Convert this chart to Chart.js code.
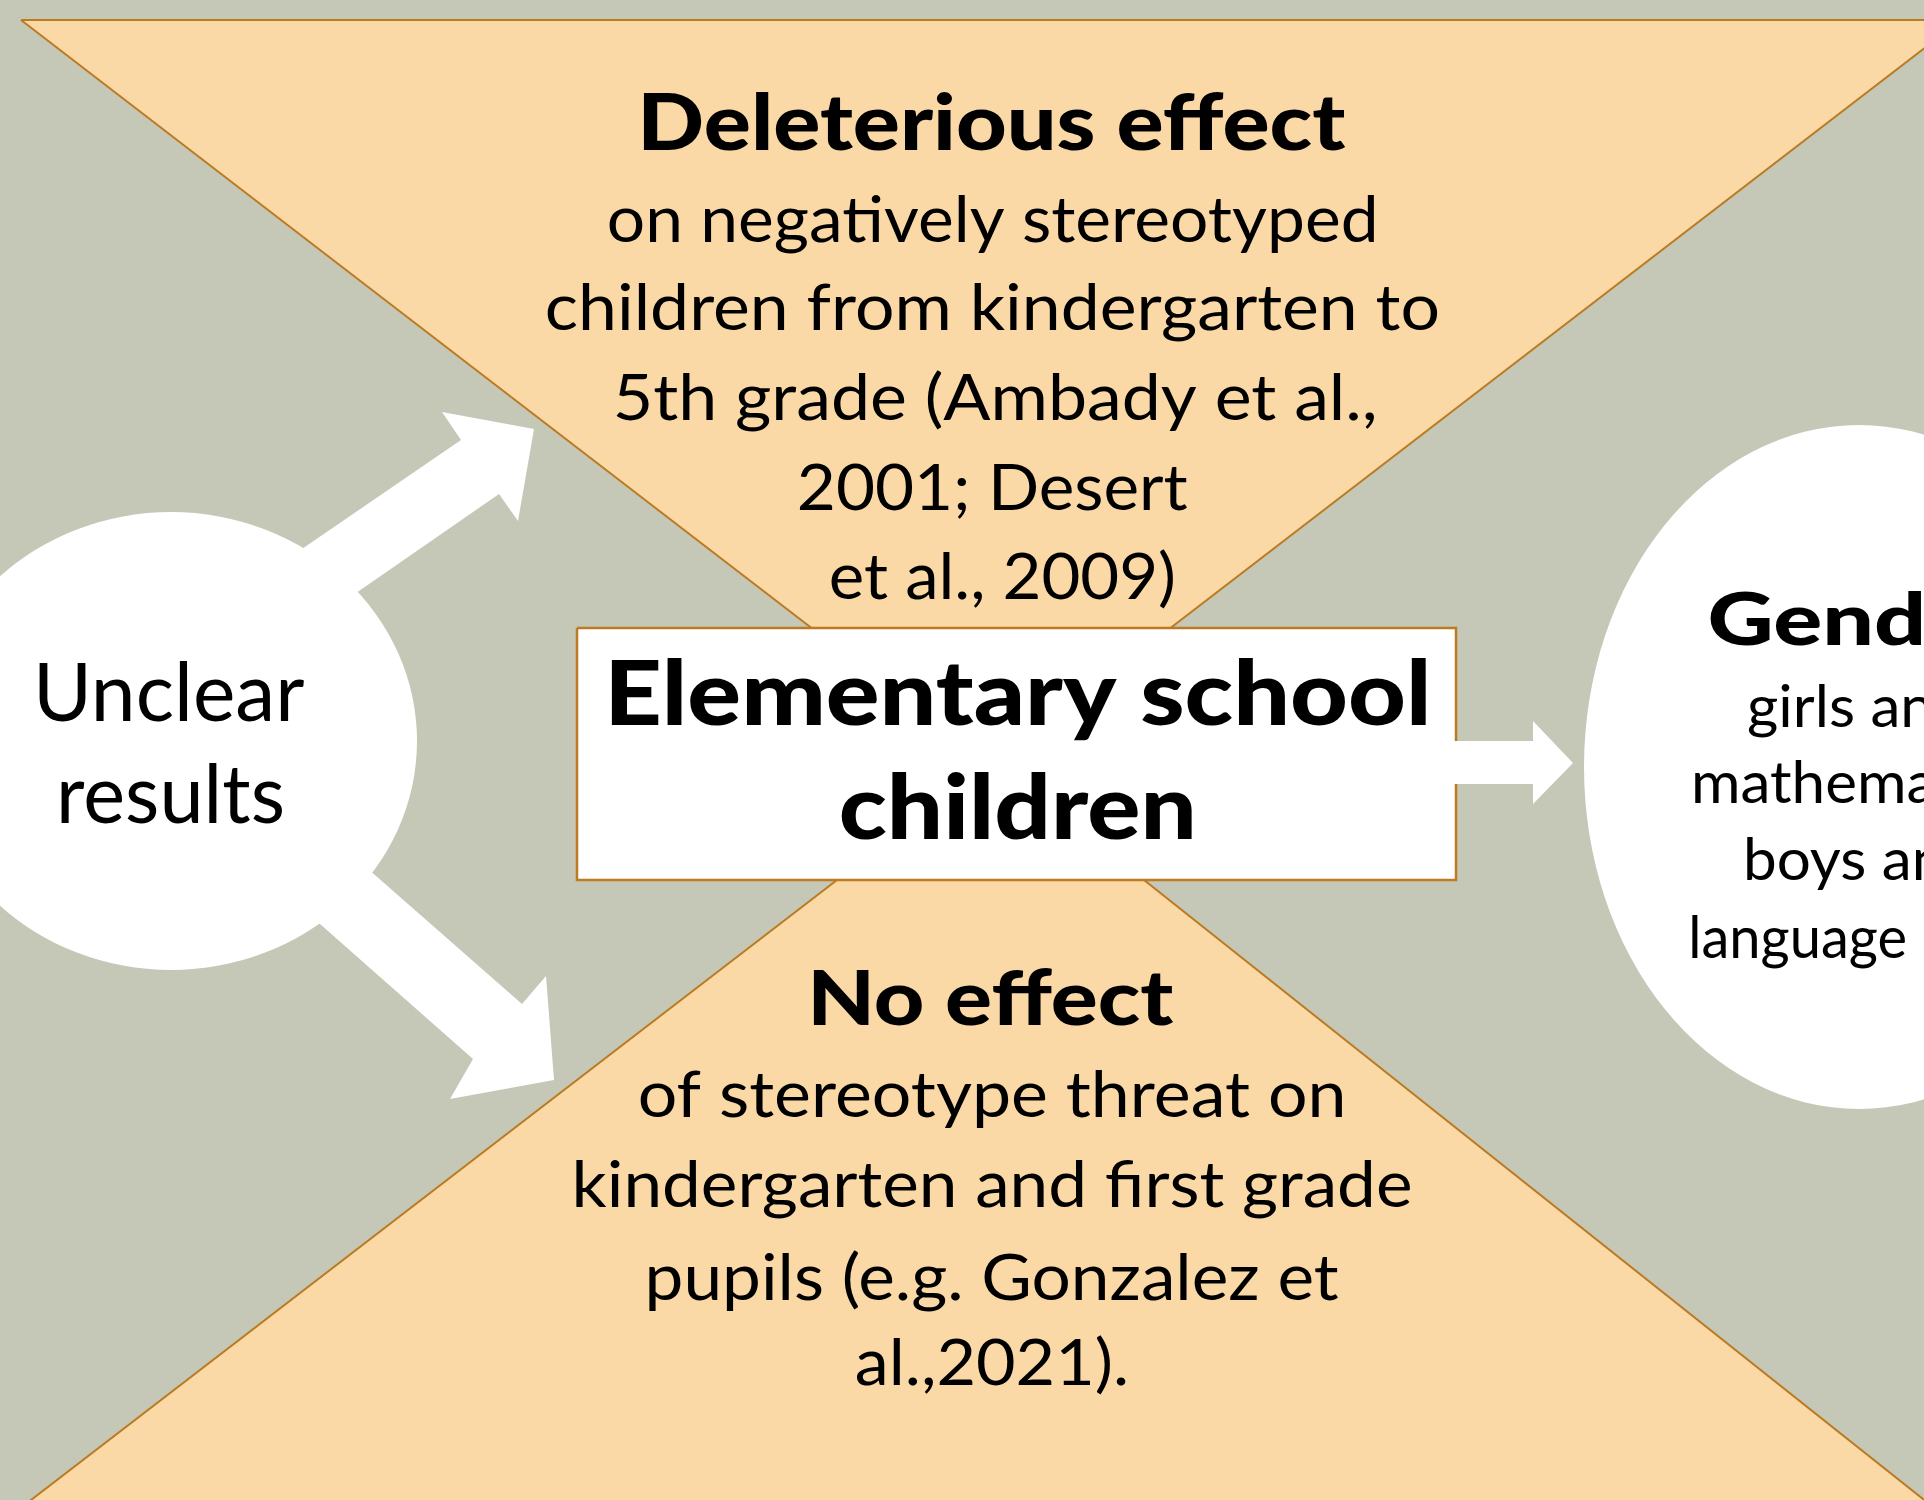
<!DOCTYPE html>
<html>
<head>
<meta charset="utf-8">
<title>Elementary school children</title>
<script src="https://cdn.jsdelivr.net/npm/chart.js@4.4.1/dist/chart.umd.min.js"></script>
<style>
    html, body { margin: 0; padding: 0; background: #C5C8B6; }
    #wrap { width: 1924px; height: 1500px; }
</style>
</head>
<body>
<div id="wrap"><canvas id="diagram" width="1924" height="1500"></canvas></div>
<script>
// Shapes, in picture units (x right, y down)
const topTriangle    = [[21, 20], [1961, 20], [991, 766], [21, 20]];
const bottomTriangle = [[-8, 1530], [993, 760], [1962, 1530], [-8, 1530]];
const centreBox      = [[577, 628], [1456, 628], [1456, 880], [577, 880], [577, 628]];
const upArrow        = [[280, 564], [461, 440], [442, 412], [534, 429], [518, 521], [499, 494], [333, 609], [280, 564]];
const downArrow      = [[351, 854], [522, 1004], [546, 976], [554, 1080], [450, 1099], [473, 1059], [303, 909], [351, 854]];
const rightArrow     = [[1450, 741], [1533, 741], [1533, 721], [1573, 763], [1533, 804], [1533, 784], [1450, 784], [1450, 741]];

// bubbles: centre x, centre y, radius x, radius y
const leftBubble  = [171, 741, 246, 229];
const rightBubble = [1859, 767, 275, 342];

// Texts
const topHeading    = 'Deleterious effect';
const topLines      = ['on negatively stereotyped', 'children from kindergarten to', '5th grade (Ambady et al.,', '2001; Desert', 'et al., 2009)'];
const bottomHeading = 'No effect';
const bottomLines   = ['of stereotype threat on', 'kindergarten and first grade', 'pupils (e.g. Gonzalez et', 'al.,2021).'];
const centreLines   = ['Elementary school', 'children'];
const leftLines     = ['Unclear', 'results'];
const rightHeading  = 'Gender stereotypes';
const rightLines    = ['girls and', 'mathematics,', 'boys and', 'language'];

// Text placement: [ink left, ink right, baseline]
const topHeadingPos    = [643, 1346, 150];
const topLinesPos      = [[609, 1374, 242], [547, 1438, 330], [616, 1374, 420], [799, 1187, 510], [831, 1173, 599]];
const bottomHeadingPos = [813, 1174, 1025];
const bottomLinesPos   = [[640, 1343, 1117], [576, 1410, 1207], [649, 1338, 1300], [857, 1126, 1385]];
const centreLinesPos   = [[611, 1426, 725], [841, 1192, 839]];
const leftLinesPos     = [[39, 304, 721], [61, 282, 823]];
// right bubble runs off the picture: [ink left, baseline, visible part, its ink right]
const rightHeadingPos  = [1710, 645, 'Gend', 1922];
const rightLinesPos    = [[1748, 727, 'girls a', 1897], [1695, 803, null, null], [1747, 880, null, null], [1692, 958, 'language', 1905]];

const BG = '#C5C8B6';
const PEACH = '#FAD9A7';
const EDGE = '#BC7A22';
const FONT = 'Lato, "Open Sans", "DejaVu Sans", sans-serif';

const toPoints = arr => arr.map(p => ({ x: p[0], y: p[1] }));

function polygon(label, pts, fillColor, edgeColor, edgeWidth, order) {
    return {
        label: label,
        data: toPoints(pts),
        showLine: true,
        fill: 'shape',
        backgroundColor: fillColor,
        borderColor: edgeColor,
        borderWidth: edgeWidth,
        pointRadius: 0,
        pointHoverRadius: 0,
        tension: 0,
        order: order
    };
}

function sizeForCap(ctx, weight, cap) {
    ctx.font = `${weight} 100px ${FONT}`;
    return cap / (ctx.measureText('H').actualBoundingBoxAscent / 100);
}

// draws one text line, squeezed or stretched so its ink spans the given width
function drawFitted(chart, text, weight, cap, x0, x1, baseline, fitText) {
    const ctx = chart.ctx;
    const xs = chart.scales.x, ys = chart.scales.y;
    ctx.font = `${weight} ${sizeForCap(ctx, weight, cap)}px ${FONT}`;
    ctx.textAlign = 'left';
    ctx.textBaseline = 'alphabetic';
    const m = ctx.measureText(fitText || text);
    const inkW = m.actualBoundingBoxLeft + m.actualBoundingBoxRight;
    const left = xs.getPixelForValue(x0);
    const sx = (xs.getPixelForValue(x1) - left) / inkW;
    ctx.save();
    ctx.translate(left, ys.getPixelForValue(baseline));
    ctx.scale(sx, 1);
    ctx.fillStyle = '#000';
    ctx.fillText(text, m.actualBoundingBoxLeft, 0);
    ctx.restore();
}

const diagramPlugin = {
    id: 'diagramPlugin',
    beforeDraw(chart) {
        const ctx = chart.ctx;
        ctx.save();
        ctx.fillStyle = BG;
        ctx.fillRect(0, 0, chart.width, chart.height);
        ctx.restore();
    },
    beforeDatasetsDraw(chart) {
        const ctx = chart.ctx;
        const xs = chart.scales.x, ys = chart.scales.y;
        ctx.save();
        ctx.fillStyle = '#FFFFFF';
        [leftBubble, rightBubble].forEach(b => {
            const cx = xs.getPixelForValue(b[0]);
            const cy = ys.getPixelForValue(b[1]);
            const rx = Math.abs(xs.getPixelForValue(b[0] + b[2]) - cx);
            const ry = Math.abs(ys.getPixelForValue(b[1] + b[3]) - cy);
            ctx.beginPath();
            ctx.ellipse(cx, cy, rx, ry, 0, 0, Math.PI * 2);
            ctx.fill();
        });
        ctx.restore();
    },
    afterDatasetsDraw(chart) {
        const bold = '900';
        const normal = 'normal';
        const ctx = chart.ctx;

        drawFitted(chart, topHeading, bold, 57, ...topHeadingPos);
        topLines.forEach((t, i) => drawFitted(chart, t, normal, 46, ...topLinesPos[i]));

        drawFitted(chart, bottomHeading, bold, 55, ...bottomHeadingPos);
        bottomLines.forEach((t, i) => drawFitted(chart, t, normal, 46, ...bottomLinesPos[i]));

        centreLines.forEach((t, i) => drawFitted(chart, t, bold, 66, ...centreLinesPos[i]));
        leftLines.forEach((t, i) => drawFitted(chart, t, normal, 59, ...leftLinesPos[i]));

        drawFitted(chart, rightHeading, bold, 53, rightHeadingPos[0], rightHeadingPos[3], rightHeadingPos[1], rightHeadingPos[2]);

        // lines cut by the picture edge borrow the squeeze of "girls a"
        ctx.font = `normal ${sizeForCap(ctx, normal, 43)}px ${FONT}`;
        const ref = ctx.measureText('girls a');
        const sx = (1897 - 1748) / (ref.actualBoundingBoxLeft + ref.actualBoundingBoxRight);
        rightLines.forEach((t, i) => {
            const [x0, base, part, x1] = rightLinesPos[i];
            if (part) {
                drawFitted(chart, t, normal, 43, x0, x1, base, part);
            } else {
                ctx.font = `normal ${sizeForCap(ctx, normal, 43)}px ${FONT}`;
                const m = ctx.measureText(t);
                const w = (m.actualBoundingBoxLeft + m.actualBoundingBoxRight) * sx;
                drawFitted(chart, t, normal, 43, x0, x0 + w, base);
            }
        });
    }
};

new Chart(document.getElementById('diagram'), {
    type: 'scatter',
    data: {
        datasets: [
            polygon('right arrow', rightArrow, '#FFFFFF', '#FFFFFF', 0, 0),
            polygon('box', centreBox, '#FFFFFF', EDGE, 2.5, 1),
            polygon('up arrow', upArrow, '#FFFFFF', '#FFFFFF', 0, 1),
            polygon('down arrow', downArrow, '#FFFFFF', '#FFFFFF', 0, 1),
            polygon('top', topTriangle, PEACH, EDGE, 2, 2),
            polygon('bottom', bottomTriangle, PEACH, EDGE, 2, 2)
        ]
    },
    options: {
        responsive: false,
        animation: false,
        events: [],
        layout: { padding: 0 },
        plugins: {
            legend: { display: false },
            tooltip: { enabled: false }
        },
        scales: {
            x: { type: 'linear', min: 0, max: 1924, display: false },
            y: { type: 'linear', min: 0, max: 1500, reverse: true, display: false }
        }
    },
    plugins: [diagramPlugin]
});
</script>
</body>
</html>
